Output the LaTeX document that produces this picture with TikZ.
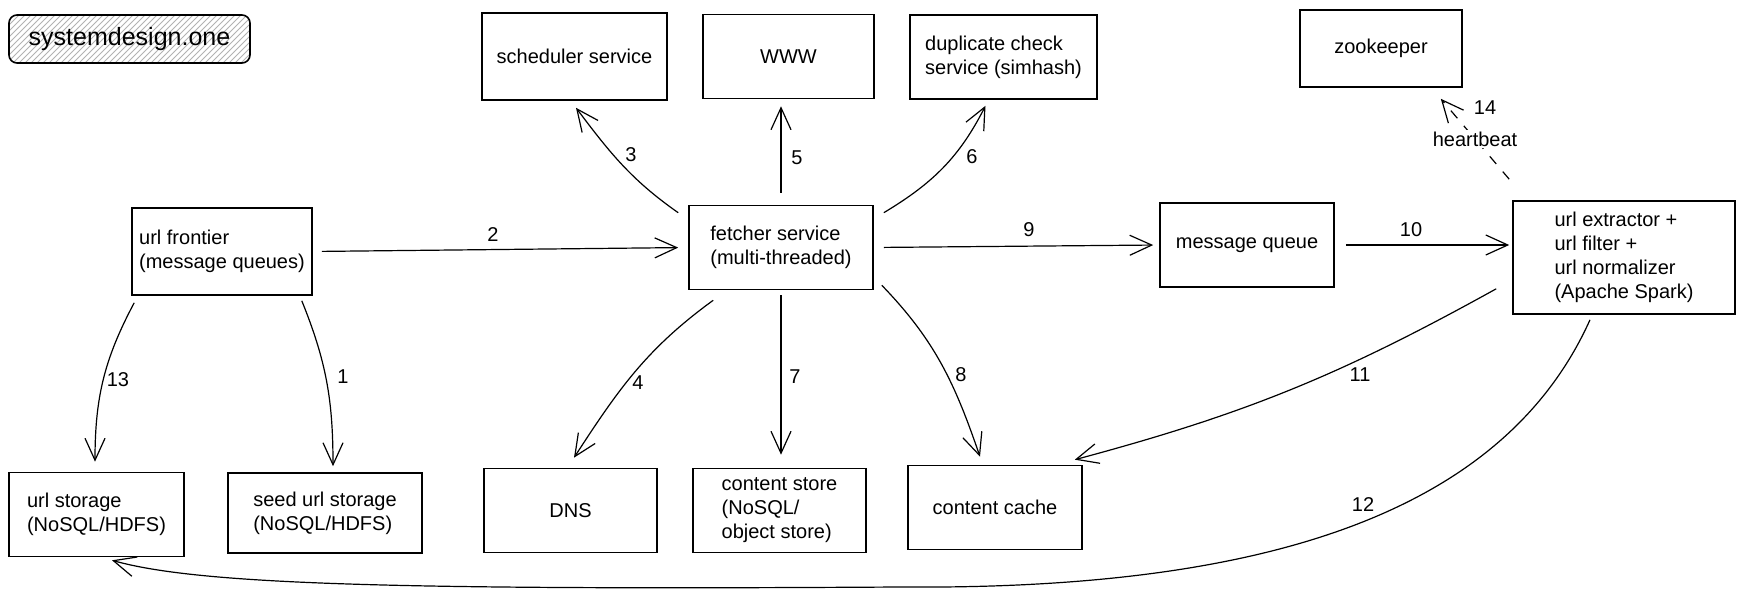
\documentclass[tikz,border=0pt]{standalone}
\usepackage{fontspec}
\setmainfont{Liberation Sans}
\usetikzlibrary{arrows.meta,patterns}

\tikzset{
  box/.style={draw, line width=0.8pt, minimum width=87pt, minimum height=42pt,
    align=left, inner sep=3pt, font=\fontsize{10}{12}\selectfont},
  arr/.style={-{Straight Barb[length=11pt,width=10pt]}, line width=0.6pt},
  num/.style={inner sep=1pt, font=\fontsize{10}{12}\selectfont}
}

\begin{document}
\begin{tikzpicture}[x=0.5pt,y=0.5pt]
\useasboundingbox (0,0) rectangle (1745,-598);

%NODE
\node[draw, rounded corners=4pt, line width=0.8pt, pattern=north east lines,
  pattern color=black!30, minimum width=120.5pt, minimum height=24pt,
  font=\fontsize{12.5}{14}\selectfont] (logo) at (129.5,-39) {systemdesign.one};

\node[box, minimum width=92.5pt, minimum height=43.5pt] (sc) at (574.5,-56.5) {scheduler service};
\node[box, minimum width=85.5pt] (ww) at (788.5,-56.5) {WWW};
\node[box, minimum width=93.5pt] (dp) at (1003.5,-57) {duplicate check\\service (simhash)};
\node[box, minimum width=81pt, minimum height=38.5pt] (zk) at (1381,-48.5) {zookeeper};

\node[box, minimum width=90pt, minimum height=43.5pt] (fr) at (222,-251.5) {url frontier\\(message queues)};
\node[box, minimum width=92pt] (fe) at (781,-247.5) {fetcher service\\(multi-threaded)};
\node[box] (mq) at (1247,-245) {message queue};
\node[box, minimum width=111pt, minimum height=56.5pt] (ux) at (1624,-257.5) {url extractor +\\url filter +\\url normalizer\\(Apache Spark)};

\node[box, minimum width=87.5pt] (us) at (96.5,-514.5) {url storage\\(NoSQL/HDFS)};
\node[box, minimum width=97pt, minimum height=40pt] (su) at (325,-513) {seed url storage\\(NoSQL/HDFS)};
\node[box, minimum width=86.5pt] (dn) at (570.5,-510.5) {DNS};
\node[box, minimum width=86.5pt] (cs) at (779.5,-510.5) {content store\\(NoSQL/\\object store)};
\node[box] (cc) at (995,-507.5) {content cache};

%EDGE
\draw[arr] ([shift={(-5.5pt,-2.5pt)}]fr.south east) to[out=-68,in=90] ([shift={(4pt,3pt)}]su.north);
\draw[arr, shorten <=4.5pt, shorten >=5pt] (fr.east) -- (fe.west);
\draw[arr] ([shift={(-5pt,-4pt)}]fe.north west) to[out=145,in=-53] ([shift={(0.75pt,-3.5pt)}]sc.south);
\draw[arr] ([shift={(12.5pt,-5pt)}]fe.south west) to[out=216,in=57] ([shift={(1.75pt,5pt)}]dn.north);
\draw[arr, shorten <=6pt, shorten >=3.5pt] (fe.north) -- (fe.north |- ww.south);
\draw[arr] ([shift={(5pt,-4pt)}]fe.north east) to[out=31,in=-117] ([shift={(-9pt,-3pt)}]dp.south);
\draw[arr, shorten <=2.5pt, shorten >=6.5pt] (fe.south) -- (fe.south |- cs.north);
\draw[arr] ([shift={(4pt,2.5pt)}]fe.south east) to[out=-46,in=109] ([shift={(-7.5pt,4pt)}]cc.north);
\draw[arr, shorten <=5pt, shorten >=3pt] (fe.east) -- (mq.west);
\draw[arr, shorten <=5.5pt, shorten >=1.5pt] (mq.east) -- (mq.east -| ux.west);
\draw[arr] ([shift={(-8pt,13pt)}]ux.south west) to[out=209,in=15] ([shift={(-4pt,2.5pt)}]cc.north east);
\draw[arr] ([shift={(-17pt,-2.5pt)}]ux.south) .. controls (1500,-520) and (1250,-590) .. (900,-587)
  .. controls (400,-590) and (200,-585) .. ([shift={(7.75pt,-1.5pt)}]us.south);
\draw[arr] ([shift={(1.5pt,-3.5pt)}]fr.south west) to[out=-118,in=90] ([shift={(-0.75pt,5pt)}]us.north);
\draw[arr, dash pattern=on 5pt off 5pt] ([shift={(-1.5pt,10.5pt)}]ux.north west)
  -- node[fill=white, inner sep=1pt, font=\fontsize{10}{12}\selectfont] (hb) {heartbeat}
  ([shift={(-11pt,-5.5pt)}]zk.south east);

%LABEL
\node[num] (n1) at (343,-377) {1};
\node[num] (n2) at (493,-235) {2};
\node[num] (n3) at (631,-155) {3};
\node[num] (n4) at (638,-383) {4};
\node[num] (n5) at (797,-158) {5};
\node[num] (n6) at (972,-157) {6};
\node[num] (n7) at (795,-377) {7};
\node[num] (n8) at (961,-375) {8};
\node[num] (n9) at (1029,-230) {9};
\node[num] (n10) at (1411,-230) {10};
\node[num] (n11) at (1360,-375) {11};
\node[num] (n12) at (1363,-505) {12};
\node[num] (n13) at (118,-380) {13};
\node[num] (n14) at (1485,-108) {14};
\end{tikzpicture}
\end{document}
